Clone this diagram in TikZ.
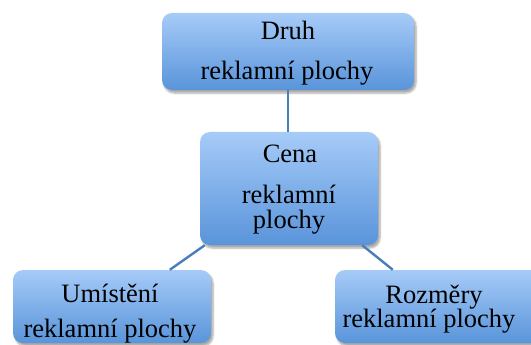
\documentclass[tikz,border=0pt]{standalone}
\usepackage{fontspec}
\setmainfont{Liberation Serif}
\usetikzlibrary{shadows.blur}
\definecolor{boxtop}{HTML}{A6CBF8}
\definecolor{boxbot}{HTML}{5994DA}
\definecolor{linkc}{HTML}{4A7EBB}
\tikzset{
  box/.style={rectangle, rounded corners=10pt, draw=none, top color=boxtop, bottom color=boxbot,
    blur shadow={shadow xshift=2pt, shadow yshift=-3pt, shadow blur steps=6, shadow opacity=35}},
  txt/.style={anchor=base, inner sep=0pt, font=\fontsize{26.5}{28}\selectfont},
  link/.style={draw=linkc, line width=2.4pt}
}
\begin{document}
\begin{tikzpicture}[x=1pt, y=-1pt]
\useasboundingbox (0,0) rectangle (531,345);
\clip (0,0) rectangle (531,345);
\node[box, minimum width=252pt, minimum height=77pt] (druh) at (288,51.5) {};
\node[box, minimum width=178pt, minimum height=113pt] (cena) at (289,188.5) {};
\node[box, minimum width=198pt, minimum height=73pt] (umist) at (112,306.5) {};
\node[box, minimum width=210pt, minimum height=73pt] (rozm) at (440,306.5) {};
\draw[link] (druh.south) -- (druh.south |- cena.north);
\draw[link] ([xshift=5pt]cena.south west) -- ([xshift=157pt]umist.north west);
\draw[link] ([xshift=-16pt]cena.south east) -- ([xshift=58pt]rozm.north west);
\node[txt] (t1) at (288,40) {Druh};
\node[txt] (t2) at (287,80) {reklamní plochy};
\node[txt] (t3) at (290,163) {Cena};
\node[txt] (t4) at (289,204) {reklamní};
\node[txt] (t5) at (289,228) {plochy};
\node[txt] (t6) at (110,302) {Umístění};
\node[txt] (t7) at (110,337) {reklamní plochy};
\node[txt] (t8) at (434,303) {Rozměry};
\node[txt] (t9) at (429,327) {reklamní plochy};
\end{tikzpicture}
\end{document}
